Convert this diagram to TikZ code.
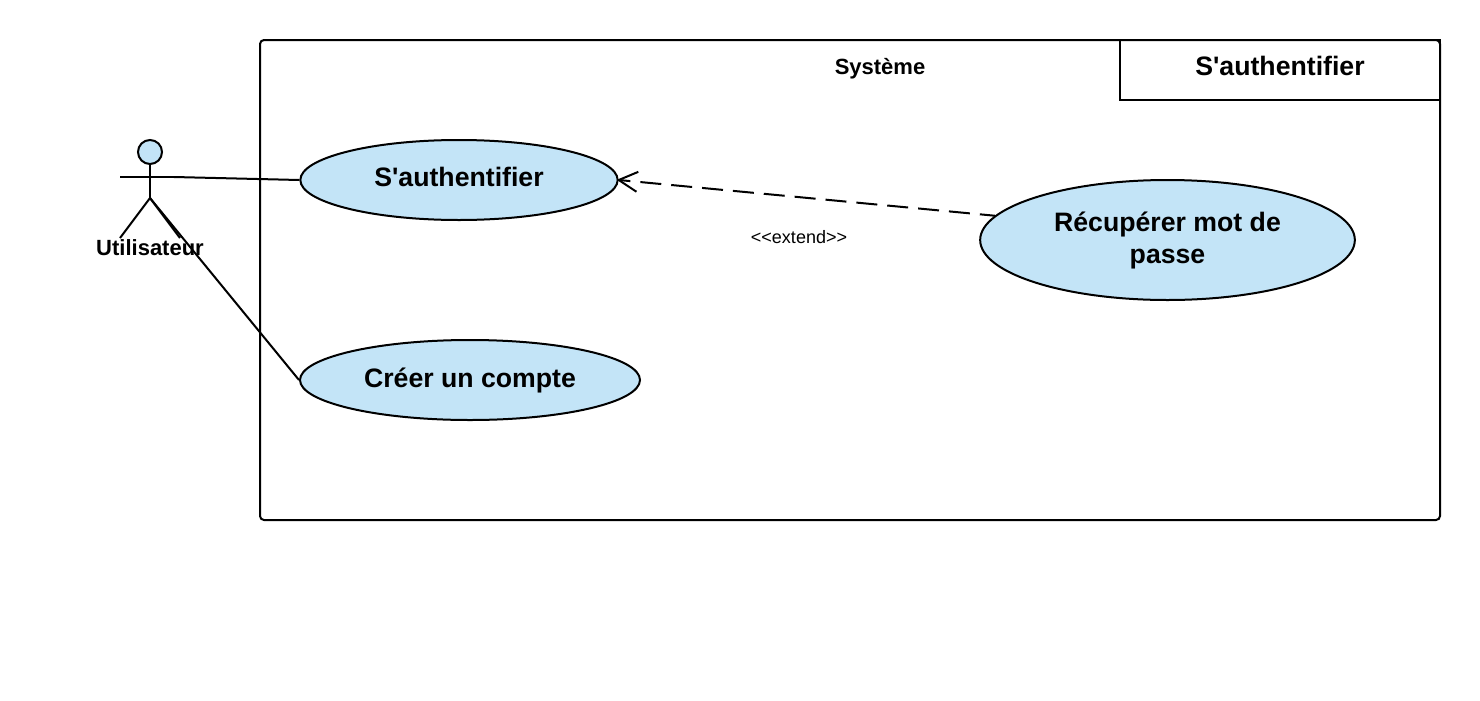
\documentclass[tikz,border=0pt]{standalone}
\usepackage{fontspec}
\setmainfont{Liberation Sans}[Ligatures=TeXOff]
\usetikzlibrary{shapes.geometric,arrows.meta}
\definecolor{usecaseblue}{HTML}{C3E4F7}
\tikzset{
  usecase/.style={draw, ellipse, fill=usecaseblue, inner sep=0pt, align=center, font=\bfseries\fontsize{20}{24}\selectfont},
  frame/.style={line width=1.5pt},
}
\begin{document}
\begin{tikzpicture}[x=0.75pt, y=-0.75pt, line width=1.5pt, >={Straight Barb[length=14pt, width=15pt, line width=1.5pt]}]
  \useasboundingbox (0,0) rectangle (1480,700);

  % system boundary
  \draw[frame, rounded corners=3pt] (260,40) rectangle (1440,520);
  \node[draw, frame, minimum width=240pt, minimum height=45pt, inner sep=0pt, text depth=6pt, font=\bfseries\fontsize{20}{24}\selectfont] (title) at (1280,70) {S'authentifier};
  \node[font=\bfseries\fontsize{16.5}{20}\selectfont] (system) at (880,69) {Système};

  % actor
  \node[draw, circle, fill=usecaseblue, minimum size=18pt, inner sep=0pt] (head) at (150,152) {};
  \coordinate (hip) at (150,198);
  \coordinate (armL) at (120,177);
  \coordinate (armR) at (180,177);
  \coordinate (footL) at (120,238);
  \coordinate (footR) at (180,238);
  \coordinate (hand) at (174,177);
  \draw (head) -- (hip);
  \draw (armL) -- (armR);
  \draw (footL) -- (hip) -- (footR);
  \node[font=\bfseries\fontsize{16.5}{20}\selectfont] (actor) at (150,248) {Utilisateur};

  % use cases
  \node[usecase, minimum width=238pt, minimum height=60pt, text depth=4.5pt] (auth) at (459,180) {S'authentifier};
  \node[usecase, minimum width=255pt, minimum height=60pt] (create) at (470,380) {Créer un compte};
  \node[usecase, minimum width=281pt, minimum height=90pt] (recover) at (1167.5,240) {\parbox{175pt}{\centering Récupérer mot de\\passe}};

  % links
  \draw (hand) -- (auth.west);
  \draw (hip) -- (create.west);
  \draw[->, dash pattern=on 15.75pt off 7.5pt, dash phase=4.5pt, shorten >=-1.5pt] (recover.172) -- (auth.east);
  \node[font=\fontsize{13.5}{16}\selectfont] (extend) at (799,237) {<<extend>>};

\end{tikzpicture}
\end{document}
